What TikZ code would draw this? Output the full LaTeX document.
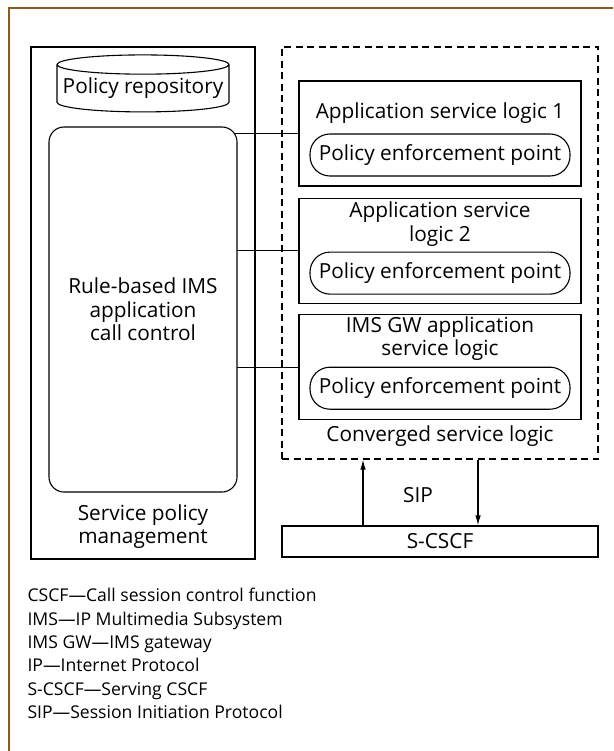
\documentclass[tikz,border=0pt]{standalone}
\usepackage{fontspec}
\setmainfont{Open Sans}
\usetikzlibrary{positioning,shapes,arrows.meta,backgrounds}
\definecolor{framebrown}{RGB}{140,90,30}

\tikzset{
  box/.style={draw, inner sep=0pt},
  dashbox/.style={draw, dashed, dash pattern=on 7pt off 4.5pt},
  appbox/.style={box, minimum width=282pt, minimum height=105pt},
  pep/.style={draw, rounded corners=20pt, minimum width=260pt, minimum height=42pt, inner sep=0pt},
  lbl/.style={align=center, inner sep=0pt},
}

\begin{document}
\begin{tikzpicture}[x=1pt, y=-1pt, line width=1.1pt, >={Latex[length=10pt,width=5.5pt]}, font=\fontsize{20.8}{23.4}\selectfont]
	\useasboundingbox (0,0) rectangle (613,751);
	\draw[framebrown, line width=2.2pt] (9,751) -- (9,8) -- (613,8);

	% left side
	\node[box, minimum width=224pt, minimum height=512pt] (spm) at (143,303) {};
	\node[draw, cylinder, shape border rotate=90, aspect=0.12, minimum width=172pt, minimum height=57pt, inner sep=0pt] (repo) at (143,88.5) {Policy repository};
	\node[box, rounded corners=15pt, fill=white, align=center, minimum width=188pt, minimum height=365pt] (rule) at (143,309.5) {Rule-based IMS\\application\\call control};
	\node[lbl] (spmtext) at (143,526.5) {Service policy\\management};

	% right side
	\node[dashbox, minimum width=316pt, minimum height=412pt] (conv) at (440,253) {};
	\node[appbox] (app1) at (440,133.5) {};
	\node[appbox, below=11pt of app1] (app2) {};
	\node[appbox, below=10pt of app2] (app3) {};
	\node[lbl] (app1title) at ([yshift=-33pt]app1.north) {Application service logic 1};
	\node[lbl] (app2title) at ([yshift=-26.5pt]app2.north) {Application service\\logic 2};
	\node[lbl] (app3title) at ([yshift=-25pt]app3.north) {IMS GW application\\service logic};
	\node[pep, above=10pt of app1.south] (pep1) {Policy enforcement point};
	\node[pep, above=9pt of app2.south] (pep2) {Policy enforcement point};
	\node[pep, above=10pt of app3.south] (pep3) {Policy enforcement point};
	\node[lbl] (convtext) at (440,436) {Converged service logic};

	\node[box, minimum width=316pt, minimum height=31pt] (scscf) at (440,541.5) {S-CSCF};
	\node[lbl] (sip) at (418,495) {SIP};

	\draw[->] ([xshift=-77pt]scscf.north) -- ([xshift=-77pt]conv.south);
	\draw[->] ([xshift=38pt]conv.south) -- ([xshift=38pt]scscf.north);

	\begin{scope}[on background layer]
		\draw (app1.west) -- (app1.west -| rule.center);
		\draw (app2.west) -- (app2.west -| rule.center);
		\draw (app3.west) -- (app3.west -| rule.center);
	\end{scope}

	% abbreviations
	\node[lbl, align=left, anchor=west, font=\fontsize{17.6}{23.4}\selectfont] (legend) at (27,653.5) {CSCF---Call session control function\\IMS---IP Multimedia Subsystem\\IMS GW---IMS gateway\\IP---Internet Protocol\\S-CSCF---Serving CSCF\\SIP---Session Initiation Protocol};
\end{tikzpicture}
\end{document}
